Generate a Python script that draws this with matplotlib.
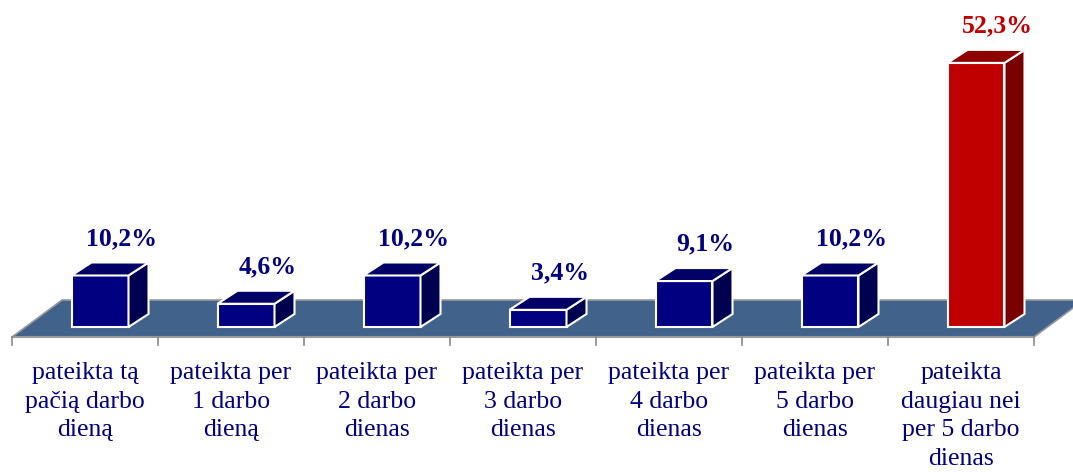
import matplotlib
matplotlib.use("Agg")
import matplotlib.pyplot as plt
from matplotlib.patches import Polygon

categories = [
    "pateikta tą\npačią darbo\ndieną",
    "pateikta per\n1 darbo\ndieną",
    "pateikta per\n2 darbo\ndienas",
    "pateikta per\n3 darbo\ndienas",
    "pateikta per\n4 darbo\ndienas",
    "pateikta per\n5 darbo\ndienas",
    "pateikta\ndaugiau nei\nper 5 darbo\ndienas",
]
values = [10.2, 4.6, 10.2, 3.4, 9.1, 10.2, 52.3]
value_labels = ["10,2%", "4,6%", "10,2%", "3,4%", "9,1%", "10,2%", "52,3%"]
highlight = [False, False, False, False, False, False, True]

W, H = 1073, 472
fig = plt.figure(figsize=(W / 100, H / 100), dpi=100)
ax = fig.add_axes([0, 0, 1, 1])
ax.set_axis_off()

px_per_cat = 146.0
px_per_pct = 5.05
x0_px = 85.0        # pixel x of first category centre
base_px = 145.0     # pixel height (from bottom) of bar base
ax.set_xlim(-x0_px / px_per_cat, (W - x0_px) / px_per_cat)
ax.set_ylim(-base_px / px_per_pct, (H - base_px) / px_per_pct)

dx = 20 / px_per_cat     # depth offset x
dy = 13 / px_per_pct     # depth offset y
bar_off = 15 / px_per_cat
bar_w = 57 / px_per_cat

# floor
f_front = -10 / px_per_pct
f_back = 27 / px_per_pct
f_shift = 50 / px_per_cat
n = len(categories)
floor = Polygon([(-0.5, f_front), (n - 0.5, f_front),
                 (n - 0.5 + f_shift, f_back), (-0.5 + f_shift, f_back)],
                closed=True, facecolor="#41638B", edgecolor="#9A9A9A", lw=1.2, zorder=1)
ax.add_patch(floor)
# front edge line & ticks
ax.plot([-0.5, n - 0.5], [f_front, f_front], color="#9A9A9A", lw=1.5, zorder=2)
tick_len = 8 / px_per_pct
for k in range(n + 1):
    ax.plot([k - 0.5, k - 0.5], [f_front, f_front - tick_len], color="#8A8A8A", lw=1.2, zorder=2)

for i, (v, lab, hl) in enumerate(zip(values, value_labels, highlight)):
    if hl:
        front, top, side, tc = "#C00000", "#8E0000", "#780000", "#C00000"
    else:
        front, top, side, tc = "#000080", "#000066", "#000050", "#000080"
    xl = i + bar_off - bar_w / 2
    xr = i + bar_off + bar_w / 2
    ec = "white"
    ax.add_patch(Polygon([(xl, 0), (xr, 0), (xr, v), (xl, v)], closed=True,
                         facecolor=front, edgecolor=ec, lw=1.5, zorder=3))
    ax.add_patch(Polygon([(xr, 0), (xr + dx, dy), (xr + dx, v + dy), (xr, v)], closed=True,
                         facecolor=side, edgecolor=ec, lw=1.5, zorder=3))
    ax.add_patch(Polygon([(xl, v), (xr, v), (xr + dx, v + dy), (xl + dx, v + dy)], closed=True,
                         facecolor=top, edgecolor=ec, lw=1.5, zorder=3))
    ax.text(i + 0.25, v + 7.3, lab, ha="center", va="center", fontsize=18.5,
            fontweight="bold", family="Liberation Serif", color=tc, zorder=4)
    ax.text(i, f_front - 25 / px_per_pct, categories[i], ha="center", va="top",
            fontsize=18.5, family="Liberation Serif", color="#000080",
            linespacing=1.39, zorder=4)

fig.savefig("out.png", dpi=100)
